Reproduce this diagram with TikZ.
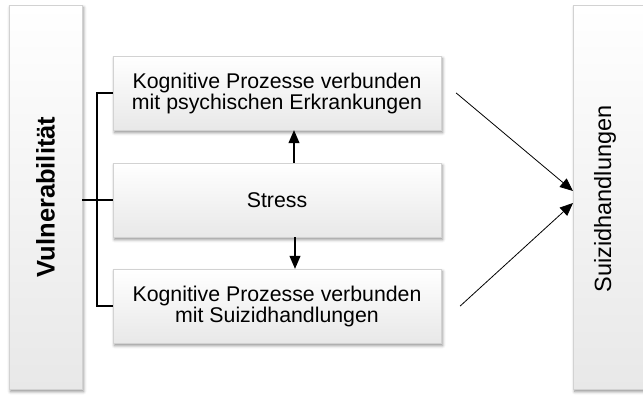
\documentclass[tikz,border=0pt]{standalone}
\usepackage{fontspec}
\setmainfont{Liberation Sans}
\usetikzlibrary{arrows.meta,positioning,shadows.blur,calc}
\tikzset{
    vulbox/.style={draw=gray!35, line width=0.4pt, top color=white, bottom color=gray!18, align=center, inner sep=0pt,
        blur shadow={shadow xshift=1.5pt, shadow yshift=-2.5pt, shadow blur radius=3pt, shadow opacity=45}},
    procbox/.style={vulbox, minimum width=328pt, minimum height=74pt, font=\fontsize{21.3}{21}\selectfont},
    sidebox/.style={vulbox, minimum height=384pt},
    vularrow/.style={-{Triangle[length=13pt,width=11pt]}, line width=1.1pt},
    vulbracket/.style={line width=2pt}
}
\begin{document}
\begin{tikzpicture}[x=1pt, y=-1pt]
    \useasboundingbox (0,0) rectangle (643,401);

    \node[sidebox, minimum width=73pt] (vuln) at (45.5,197) {\rotatebox{90}{\fontsize{25.5}{25.5}\selectfont\bfseries Vulnerabilität}};
    \node[sidebox, minimum width=100pt, anchor=west] (suizid) at (573,197) {};
    \node[rotate=90, font=\fontsize{23.5}{23.5}\selectfont] (suizidtext) at (605,199) {Suizidhandlungen};

    \node[procbox] (kogpsy) at (277,93) {Kognitive Prozesse verbunden\\mit psychischen Erkrankungen};
    \node[procbox] (stress) at (277,200) {Stress};
    \node[procbox] (kogsuiz) at (277,306) {Kognitive Prozesse verbunden\\mit Suizidhandlungen};

    % Klammer links
    \coordinate (knoten) at (97,200);
    \draw[vulbracket] (vuln.east |- stress.west) -- (stress.west);
    \draw[vulbracket] (kogpsy.west) -| (knoten) |- (kogsuiz.west);

    \draw[vularrow] ([xshift=17pt]stress.north) -- ([xshift=17pt]kogpsy.south);
    \draw[vularrow] ([xshift=18pt]stress.south) -- ([xshift=18pt]kogsuiz.north);

    \draw[vularrow, line width=0.8pt] ([xshift=15pt]kogpsy.east) -- ([yshift=6pt]suizid.west);
    \draw[vularrow, line width=0.8pt] ([xshift=19pt]kogsuiz.east) -- ([yshift=-6pt]suizid.west);
\end{tikzpicture}
\end{document}
